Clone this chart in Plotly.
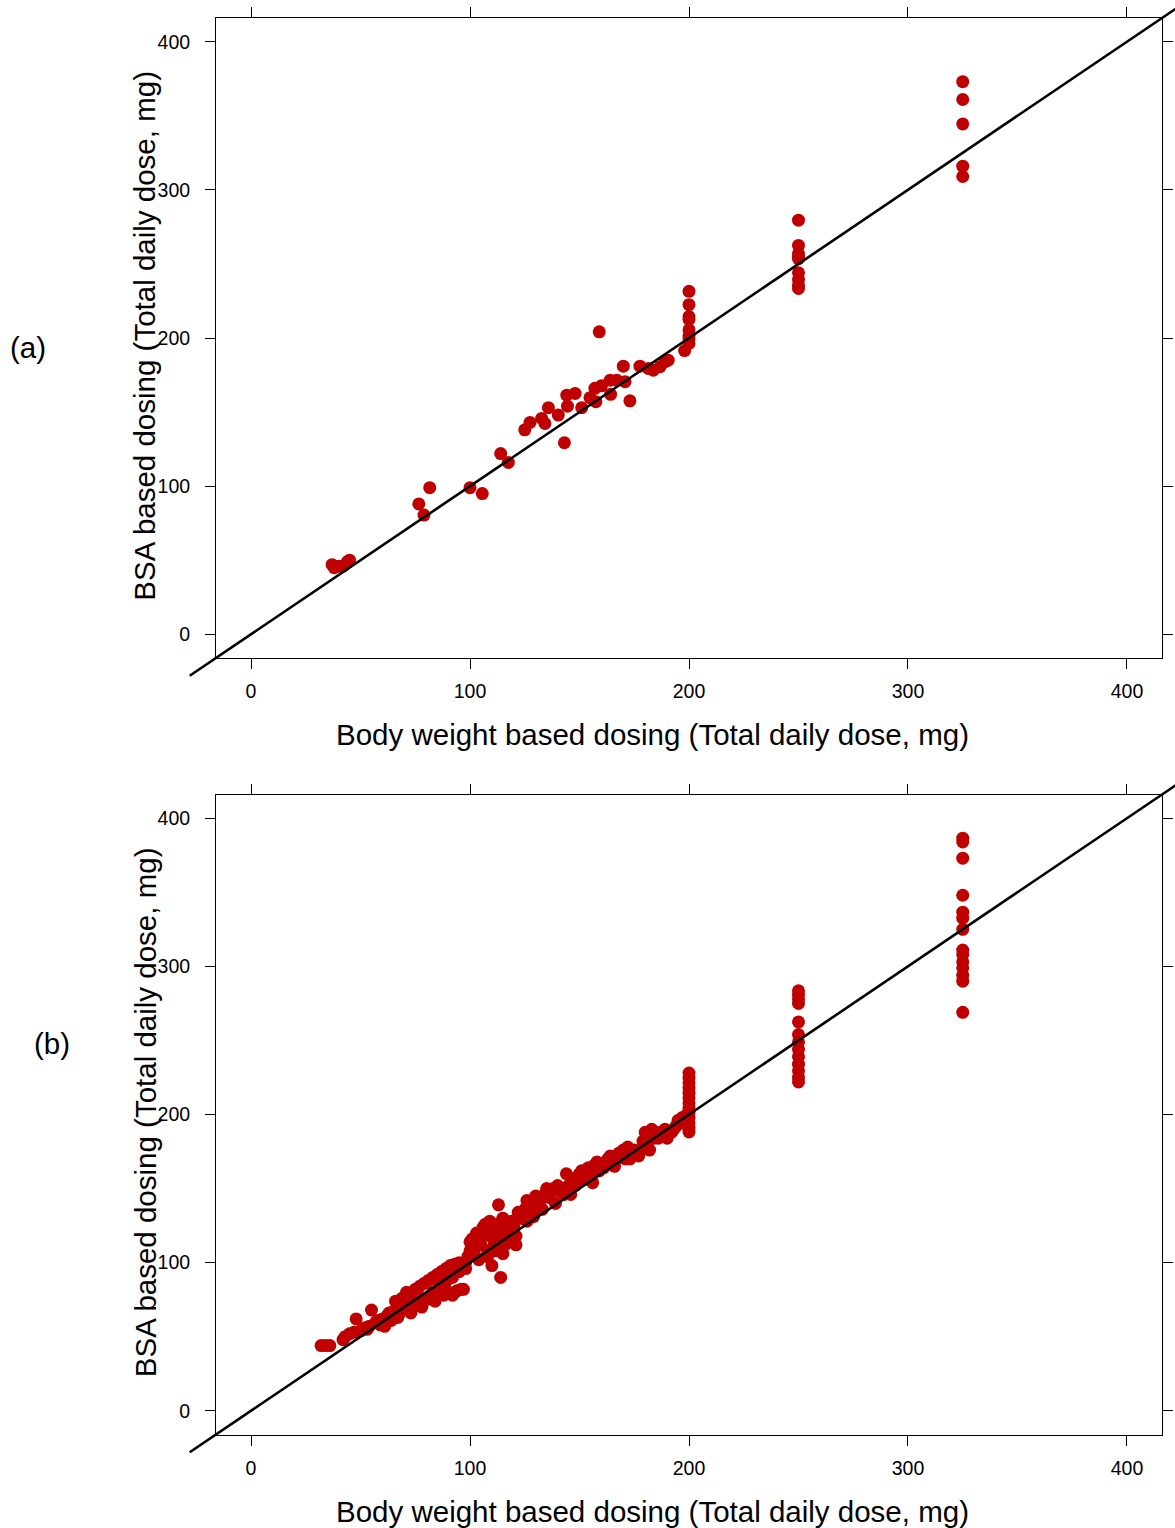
import plotly.graph_objects as go

# ---------------- data ----------------
tick_vals = [0, 100, 200, 300, 400]
tick_text = ["0", "100", "200", "300", "400"]
axis_range = [-16, 416]

a_x = [37, 38, 40, 42, 44, 45,
       76.6, 79, 81.6, 100, 105.6, 114, 117.5,
       125, 127.4, 132.7, 134.2, 135.8, 140.3, 143.1, 144.2, 144.5, 148, 151, 154.8,
       157, 157.5, 159, 160, 164, 164.2, 167, 170, 170.8, 173, 177.6, 181.4, 183.7,
       186.8, 189, 190.5, 198,
       200, 200, 200, 200, 200, 200, 200, 200,
       250, 250, 250, 250, 250, 250, 250, 250, 250,
       325, 325, 325, 325, 325]
a_y = [47, 45, 46, 46, 49, 50,
       88, 80.5, 99, 99, 95, 122, 116,
       138, 143, 145.7, 142.3, 153, 148, 129.3, 161.4, 154, 162.6, 153, 159.7,
       166, 157, 204.2, 167.7, 171.5, 162, 171.5, 181, 170.5, 157.6, 181, 179.4, 178.3,
       180.6, 184, 185, 191.5,
       231.5, 222.5, 214.5, 212.5, 205.5, 201.5, 199.5, 196.3,
       279.5, 262.5, 257, 254.5, 253.5, 244, 239.5, 235.5, 233.4,
       373, 361, 344.5, 316, 309]

b_x = [32, 34, 36, 42, 43, 45, 47, 48, 50, 52, 54, 55, 57, 58, 60, 62, 63, 65, 66, 67,
       68, 69, 70, 71, 72, 73, 74, 75, 76, 77, 78, 79, 80, 81, 82, 83, 84, 85, 86, 87,
       88, 89, 90, 91, 92, 93, 94, 95, 96, 97, 98, 99, 100, 100, 101, 102, 103, 104, 105, 106,
       107, 108, 109, 110, 110, 111, 112, 113, 113, 114, 115, 115, 116, 117, 118, 119, 120, 121, 122, 123,
       124, 125, 126, 127, 128, 129, 130, 131, 132, 133, 134, 135, 136, 137, 138, 139, 140, 141, 142, 143,
       144, 145, 146, 147, 148, 149, 150, 151, 152, 153, 154, 155, 156, 157, 158, 159, 160, 161, 162, 163,
       164, 165, 166, 167, 168, 169, 170, 171, 172, 173, 174, 175, 176, 177, 178, 179, 180, 181, 182, 183,
       184, 185, 186, 187, 188, 189, 190, 191, 192, 193, 194, 195, 196, 197, 198, 199,
       200, 200, 200, 200, 200, 200, 200, 200, 200, 200, 200, 200, 200,
       250, 250, 250, 250, 250, 250, 250, 250, 250, 250, 250, 250, 250,
       325, 325, 325, 325, 325, 325, 325, 325, 325, 325, 325, 325, 325, 325,
       53, 59, 64, 68, 72, 76, 79, 83, 86, 89, 92, 95, 98, 102, 105, 108, 111, 117, 121, 126,
       61, 67, 73, 78, 84, 90, 104, 109, 112, 116]
b_y = [44, 44, 44, 48, 50, 52, 53, 62, 54, 56, 57, 68, 60, 61, 62, 64, 66, 67, 74, 68,
       70, 76, 70, 80, 71, 78, 72, 82, 73, 84, 74, 86, 75, 88, 76, 90, 77, 92, 78, 94,
       78, 96, 79, 98, 78, 99, 81, 100, 82, 82, 100, 104, 108, 114, 116, 110, 120, 102, 118, 124,
       126, 108, 128, 98, 122, 112, 126, 139, 118, 90, 130, 106, 112, 126, 114, 128, 124, 112, 134, 130,
       130, 136, 142, 132, 138, 131, 145, 140, 142, 136, 146, 150, 144, 148, 150, 140, 152, 148, 150, 146,
       160, 152, 146, 156, 152, 158, 160, 162, 156, 160, 164, 160, 154, 166, 168, 162, 166, 164, 168, 170,
       172, 166, 165, 170, 174, 172, 176, 170, 178, 170, 174, 176, 174, 172, 176, 182, 188, 180, 176, 190,
       184, 188, 184, 186, 186, 190, 184, 188, 188, 190, 192, 196, 194, 198, 196, 200,
       228, 224.6, 221.3, 217.9, 214.5, 211.2, 207.8, 204.4, 201, 197.6, 194.3, 190.9, 188.2,
       283.5, 281, 278, 275, 262.5, 254, 249, 244, 239, 234, 229.5, 225, 222,
       386.5, 384, 373, 348, 336.6, 332.5, 325, 311, 308, 303, 299, 294, 290, 269,
       55, 58, 61, 66, 69, 72, 76, 80, 85, 87, 90, 94, 96, 106, 112, 104, 116, 120, 118, 128,
       57, 63, 66, 70, 74, 80, 112, 118, 108, 122]

panel_labels = ["(a)", "(b)"]
x_title = "Body weight based dosing (Total daily dose, mg)"
y_title = "BSA based dosing (Total daily dose, mg)"

# ---------------- layout geometry ----------------
W, H = 1175, 1528
x_dom = [216 / W, 1162 / W]
y_dom_a = [1 - 658 / H, 1 - 18 / H]
y_dom_b = [1 - 1434.5 / H, 1 - 794.5 / H]

RED = "#C00000"
FONT = "Liberation Sans, Arial, sans-serif"

fig = go.Figure()
fig.add_trace(go.Scatter(x=a_x, y=a_y, mode="markers", xaxis="x", yaxis="y",
                         marker=dict(size=13, color=RED, line=dict(width=0)),
                         cliponaxis=False, showlegend=False))
fig.add_trace(go.Scatter(x=b_x, y=b_y, mode="markers", xaxis="x2", yaxis="y2",
                         marker=dict(size=13, color=RED, line=dict(width=0)),
                         cliponaxis=False, showlegend=False))

ax_common = dict(range=axis_range, tickvals=tick_vals, ticktext=tick_text,
                 showgrid=False, zeroline=False, showline=True, linecolor="black",
                 linewidth=1, mirror="ticks", ticks="outside", ticklen=10,
                 tickcolor="black", tickwidth=1,
                 tickfont=dict(family=FONT, size=19.5, color="black"))

fig.update_layout(
    width=W, height=H,
    margin=dict(l=0, r=0, t=0, b=0),
    paper_bgcolor="white", plot_bgcolor="white",
    font=dict(family=FONT, color="black"),
    xaxis=dict(domain=x_dom, anchor="y", ticklabelstandoff=6, **ax_common),
    yaxis=dict(domain=y_dom_a, anchor="x", ticklabelstandoff=11, **ax_common),
    xaxis2=dict(domain=x_dom, anchor="y2", ticklabelstandoff=6, **ax_common),
    yaxis2=dict(domain=y_dom_b, anchor="x2", ticklabelstandoff=11, **ax_common),
)


def to_paper(v, dom, rng):
    return dom[0] + (v - rng[0]) / (rng[1] - rng[0]) * (dom[1] - dom[0])


shapes = []
line_lo, line_hi = -28, 440
for ydom in (y_dom_a, y_dom_b):
    shapes.append(dict(type="line", xref="paper", yref="paper", layer="above",
                       x0=to_paper(line_lo, x_dom, axis_range),
                       y0=to_paper(line_lo, ydom, axis_range),
                       x1=to_paper(line_hi, x_dom, axis_range),
                       y1=to_paper(line_hi, ydom, axis_range),
                       line=dict(color="black", width=2.6)))
fig.update_layout(shapes=shapes)

annots = []
TF = 29.5
layout_pos = [
    (y_dom_a, panel_labels[0], 28, 348),
    (y_dom_b, panel_labels[1], 52, 1043),
]
for ydom, lab, labx, laby in layout_pos:
    ymid = (ydom[0] + ydom[1]) / 2
    annots.append(dict(text=x_title, xref="paper", yref="paper",
                       x=652.5 / W, y=ydom[0] - 77 / H,
                       xanchor="center", yanchor="middle", showarrow=False,
                       font=dict(family=FONT, size=TF, color="black")))
    annots.append(dict(text=y_title, xref="paper", yref="paper",
                       x=145 / W, y=ymid + 0.0015,
                       xanchor="center", yanchor="middle", textangle=-90, showarrow=False,
                       font=dict(family=FONT, size=TF, color="black")))
    annots.append(dict(text=lab, xref="paper", yref="paper",
                       x=labx / W, y=1 - laby / H,
                       xanchor="center", yanchor="middle", showarrow=False,
                       font=dict(family=FONT, size=TF, color="black")))
fig.update_layout(annotations=annots)

fig.write_html("out.html")
